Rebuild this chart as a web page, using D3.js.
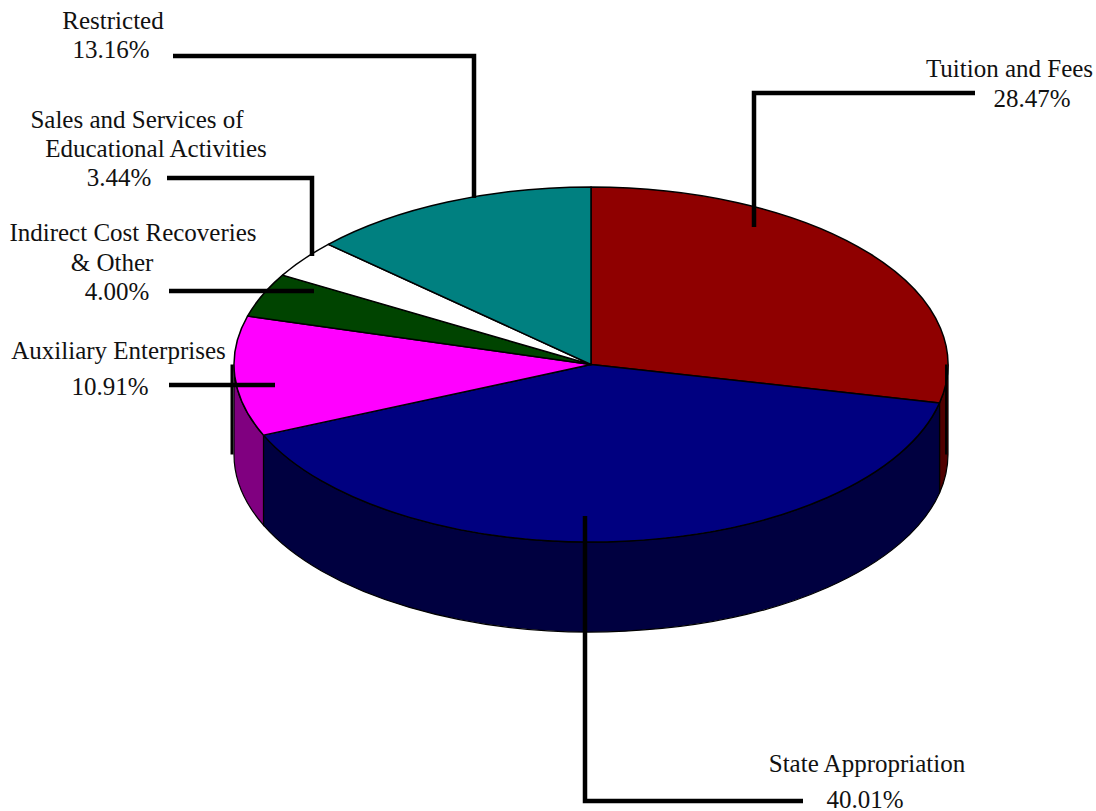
<!DOCTYPE html>
<html lang="en">
<head>
    <meta charset="utf-8">
    <title>Revenue Sources</title>
    <script src="https://cdn.jsdelivr.net/npm/d3@7"></script>
    <style>
        html, body { margin: 0; padding: 0; background: #fff; overflow: hidden; }
        svg { display: block; }
        text { font-family: "Liberation Serif", serif; font-size: 25px; fill: #111; }
    </style>
</head>
<body>
<div id="graph"></div>
<script type="text/javascript">
    var w = 1096;
    var h = 811;

    var categories = ["Tuition and Fees", "State Appropriation", "Auxiliary Enterprises",
        "Indirect Cost Recoveries & Other", "Sales and Services of Educational Activities", "Restricted"];
    var shares = [28.47, 40.01, 10.91, 4.00, 3.44, 13.16];
    var shareLabels = ["28.47%", "40.01%", "10.91%", "4.00%", "3.44%", "13.16%"];
    var topColors = ["#8f0000", "#000080", "#ff00ff", "#004400", "#ffffff", "#008080"];
    var sideColors = ["#500000", "#000040", "#800080", "#002200", "#808080", "#004040"];

    // page layout of the pie
    var cx = 591;
    var cy = 364.5;
    var rx = 357;
    var ry = 177.5;
    var depth = 90;
    var squash = ry / rx;

    // text lines: [string, centre x, baseline y]
    var textLines = [
        ["Tuition and Fees", 1009.5, 77],
        [shareLabels[0], 1032, 107],
        ["State Appropriation", 867, 772],
        [shareLabels[1], 865, 808],
        ["Auxiliary Enterprises", 118.5, 359],
        [shareLabels[2], 110, 395],
        ["Indirect Cost Recoveries", 133, 241],
        ["& Other", 112, 271],
        [shareLabels[3], 117, 300],
        ["Sales and Services of", 137, 128],
        ["Educational Activities", 156, 157],
        [shareLabels[4], 119, 186],
        ["Restricted", 113, 29],
        [shareLabels[5], 111, 58]
    ];

    // leader lines, one polyline per category
    var leaders = [
        [[975, 93], [754, 93], [754, 227]],
        [[803, 801], [585, 801], [585, 516]],
        [[169, 385], [275, 385]],
        [[169, 291], [314, 291]],
        [[167, 178], [312, 178], [312, 256]],
        [[173, 56], [474, 56], [474, 198]]
    ];

    var pie = d3.pie().sort(null).value(function (d) { return d; });
    var slices = pie(shares);

    var arc = d3.arc().innerRadius(0).outerRadius(rx);

    var svg = d3.select("#graph")
        .append("svg")
        .attr("width", w)
        .attr("height", h);

    var pieGroup = svg.append("g")
        .attr("transform", "translate(" + cx + "," + cy + ") scale(1," + squash + ")");

    // outer wall of a slice, only the front half of the rim can be seen
    function wallPath(d) {
        var a0 = Math.max(d.startAngle, Math.PI / 2);
        var a1 = Math.min(d.endAngle, Math.PI * 1.5);
        if (a1 <= a0) return null;
        var drop = depth / squash;
        var p = d3.path();
        p.arc(0, 0, rx, a0 - Math.PI / 2, a1 - Math.PI / 2);
        p.arc(0, drop, rx, a1 - Math.PI / 2, a0 - Math.PI / 2, true);
        p.closePath();
        return p.toString();
    }

    pieGroup.selectAll("path.wall")
        .data(slices)
        .enter()
        .append("path")
        .attr("class", "wall")
        .attr("d", wallPath)
        .attr("fill", function (d, i) { return sideColors[i]; })
        .attr("stroke", "#000")
        .attr("stroke-width", 1.2)
        .attr("vector-effect", "non-scaling-stroke");

    pieGroup.selectAll("path.top")
        .data(slices)
        .enter()
        .append("path")
        .attr("class", "top")
        .attr("d", arc)
        .attr("fill", function (d, i) { return topColors[i]; })
        .attr("stroke", "#000")
        .attr("stroke-width", 1.5)
        .attr("stroke-linejoin", "round")
        .attr("vector-effect", "non-scaling-stroke");

    // the two dark edges at the widest points of the rim
    svg.selectAll("line.edge")
        .data([[cx - rx - 2, 3], [cx + rx - 2, 2]])
        .enter()
        .append("line")
        .attr("class", "edge")
        .attr("x1", function (d) { return d[0]; })
        .attr("x2", function (d) { return d[0]; })
        .attr("y1", cy)
        .attr("y2", cy + depth)
        .attr("stroke", "#000")
        .attr("stroke-width", function (d) { return d[1]; });

    var lineGen = d3.line();

    svg.selectAll("path.leader")
        .data(leaders)
        .enter()
        .append("path")
        .attr("class", "leader")
        .attr("d", lineGen)
        .attr("fill", "none")
        .attr("stroke", "#000")
        .attr("stroke-width", 4.5)
        .attr("stroke-linejoin", "miter");

    svg.selectAll("text")
        .data(textLines)
        .enter()
        .append("text")
        .attr("text-anchor", "middle")
        .attr("x", function (d) { return d[1]; })
        .attr("y", function (d) { return d[2]; })
        .text(function (d) { return d[0]; });
</script>
</body>
</html>
